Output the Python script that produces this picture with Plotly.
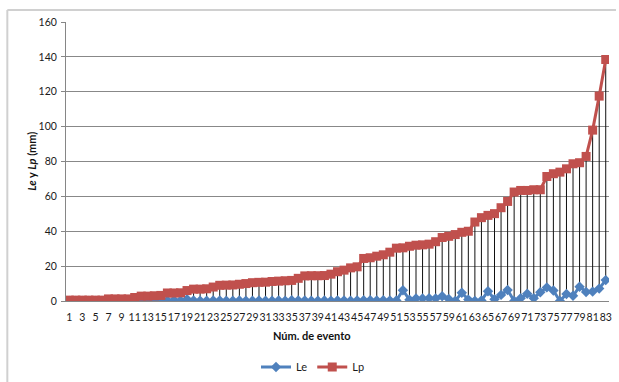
import plotly.graph_objects as go

# Event numbers and the two measured series (mm)
eventos = list(range(1, 84))

lp = [0.5, 0.5, 0.5, 0.5, 0.5, 0.5,
      1.2, 1.2, 1.2, 1.2,
      2.0,
      2.8, 2.8, 3.0, 3.2,
      4.6, 4.6, 4.7,
      6.0,
      6.8, 6.8, 7.0,
      8.0,
      9.0, 9.1, 9.2,
      9.6, 10.0, 10.5,
      10.7, 10.8,
      11.2,
      11.4, 11.6, 11.8,
      13.0,
      14.4, 14.5, 14.5, 14.6,
      15.4, 16.8, 17.7, 19.0, 19.6,
      24.4, 24.8, 25.7, 26.5, 28.0,
      30.3, 30.5, 31.4, 32.0, 32.2, 32.6, 34.0, 36.4, 37.1, 38.1,
      39.4, 40.0, 45.3, 47.8, 49.1, 50.1, 53.5, 57.1, 62.5, 63.4,
      63.4, 63.8, 63.8, 71.4, 73.0, 73.9, 75.8, 78.7, 79.3, 82.9,
      98.0, 117.5, 138.5]

le = [0, 0, 0, 0, 0, 0, 0, 0, 0, 0,
      0, 0, 0, 0, 0.3, 0.3, 0.5, 0.3, 1.0, 0.3,
      0.2, 0.2, 0.3, 0.3, 0.2, 0.2, 0.3, 0.2, 0.2, 0.3,
      0.2, 0.2, 0.3, 0.2, 0.4, 0.3, 0.3, 0.2, 0.2, 0.3,
      0.2, 0.3, 0.3, 0.2, 0.3, 0.5, 0.4, 0.3, 0.5, 0.3,
      0.3, 6.2, 0.7, 1.5, 1.5, 1.6, 1.4, 2.7, 1.2, 0.1,
      4.7, 0.8, 0.1, 0.3, 5.6, 1.0, 3.5, 6.3, 0.0, 1.6,
      4.2, 1.6, 5.0, 7.8, 6.0, 0.0, 4.0, 3.0, 8.2, 5.2,
      5.4, 7.1, 12.0]

x_ticks = list(range(1, 84, 2))
x_ticktext = [str(v) for v in x_ticks]
y_ticks = list(range(0, 161, 20))

FONT = "Lato, 'Open Sans', sans-serif"
BLUE = "#4F81BD"
RED = "#C0504D"

# High-low lines joining both series at every event
hl_x, hl_y = [], []
for e, a, b in zip(eventos, le, lp):
    hl_x += [e, e, None]
    hl_y += [min(a, b), max(a, b), None]

fig = go.Figure()
fig.add_trace(go.Scatter(
    x=hl_x, y=hl_y, mode="lines",
    line=dict(color="#111111", width=1),
    showlegend=False, hoverinfo="skip"))

fig.add_trace(go.Scatter(
    x=eventos, y=le, name="Le", mode="lines+markers",
    line=dict(color=BLUE, width=3),
    marker=dict(symbol="diamond", size=8, color=BLUE)))

fig.add_trace(go.Scatter(
    x=eventos, y=lp, name="Lp", mode="lines+markers",
    line=dict(color=RED, width=3),
    marker=dict(symbol="square", size=9, color=RED)))

W, H = 619, 382
L, R, T, B = 66, 7, 22, 81
pw, ph = W - L - R, H - T - B


def px_x(p):
    return (p - L) / pw


def px_y(p):
    return (H - B - p) / ph


fig.update_layout(
    width=W, height=H,
    margin=dict(l=L, r=R, t=T, b=B),
    paper_bgcolor="white", plot_bgcolor="white",
    font=dict(family=FONT, size=10.5, color="#1a1a1a"),
    showlegend=True,
    legend=dict(orientation="h", xref="container", yref="container",
                x=313 / W, y=1 - 367 / H, xanchor="center", yanchor="middle",
                font=dict(size=11), itemwidth=30, tracegroupgap=0),
    xaxis=dict(range=[0.5, 83.5], tickmode="array", tickvals=x_ticks,
               ticktext=x_ticktext, showgrid=False, zeroline=False,
               showline=True, linecolor="#868686", linewidth=1,
               ticks="", ticklabelstandoff=6, tickangle=0,
               tickfont=dict(size=10.5)),
    yaxis=dict(range=[0, 160], tickmode="array", tickvals=y_ticks,
               showgrid=True, gridcolor="#888888", gridwidth=1,
               zeroline=False, showline=True, linecolor="#868686",
               linewidth=1, ticks="outside", ticklen=4,
               tickcolor="#868686", ticklabelstandoff=2,
               tickfont=dict(size=10.5)),
    annotations=[
        dict(text="<b><i>Le</i> y <i>Lp</i> (mm)</b>", xref="paper",
             yref="paper", x=px_x(31), y=0.5, textangle=-90,
             showarrow=False, font=dict(size=11, color="#111111"),
             xanchor="center", yanchor="middle"),
        dict(text="<b>Núm. de evento</b>", xref="paper", yref="paper",
             x=px_x(313), y=px_y(335), showarrow=False,
             font=dict(size=11, color="#111111"),
             xanchor="center", yanchor="middle"),
    ],
    shapes=[
        dict(type="line", xref="paper", yref="paper",
             x0=px_x(7), x1=px_x(W), y0=px_y(10), y1=px_y(10),
             line=dict(color="#d0d0d0", width=2)),
        dict(type="line", xref="paper", yref="paper",
             x0=px_x(7), x1=px_x(7), y0=px_y(10), y1=px_y(H),
             line=dict(color="#d0d0d0", width=2)),
    ],
)

fig.write_html("out.html")
